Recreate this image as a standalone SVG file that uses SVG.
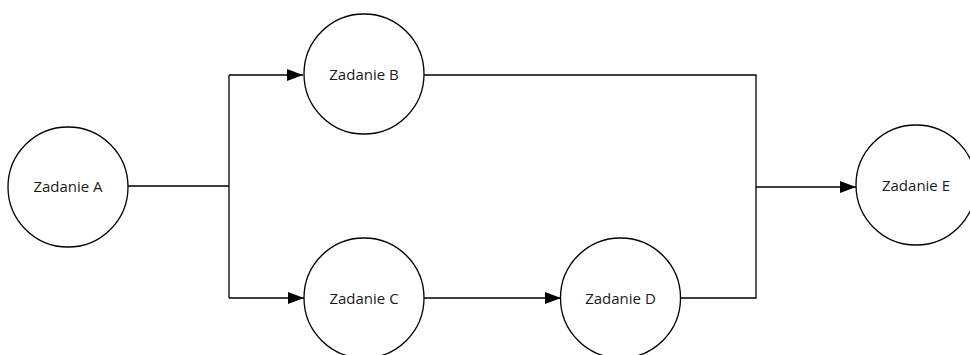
<svg xmlns="http://www.w3.org/2000/svg" width="970" height="355" viewBox="0 0 970 355">
<defs>
<marker id="arr" markerWidth="16" markerHeight="12" refX="16" refY="6" orient="auto" markerUnits="userSpaceOnUse">
<path d="M0,0 L16,6 L0,12 Z" fill="#000"/>
</marker>
<style>
.node circle{fill:#fff;stroke:#000;stroke-width:1.3}
.node text{font-family:"Open Sans","DejaVu Sans",sans-serif;font-size:15px;fill:#1a1a1a;text-anchor:middle}
.conn path{fill:none;stroke:#000;stroke-width:1.3}
</style>
</defs>
<rect width="970" height="355" fill="#fff"/>
<g class="conn">
<path d="M128,186 H229"/>
<path d="M229,75 V298"/>
<path d="M229,75 H303" marker-end="url(#arr)"/>
<path d="M229,298 H304" marker-end="url(#arr)"/>
<path d="M424,298 H561" marker-end="url(#arr)"/>
<path d="M424,75 H756 V298 H680"/>
<path d="M756,187 H856" marker-end="url(#arr)"/>
</g>
<g id="nodeA" class="node"><circle cx="68" cy="187" r="60"/><text x="68" y="192">Zadanie A</text></g>
<g id="nodeB" class="node"><circle cx="364" cy="74" r="60"/><text x="364" y="80">Zadanie B</text></g>
<g id="nodeC" class="node"><circle cx="364" cy="298" r="60"/><text x="364" y="304">Zadanie C</text></g>
<g id="nodeD" class="node"><circle cx="620.5" cy="298" r="60"/><text x="620.5" y="304">Zadanie D</text></g>
<g id="nodeE" class="node"><circle cx="916" cy="185" r="60"/><text x="916" y="191">Zadanie E</text></g>
</svg>
